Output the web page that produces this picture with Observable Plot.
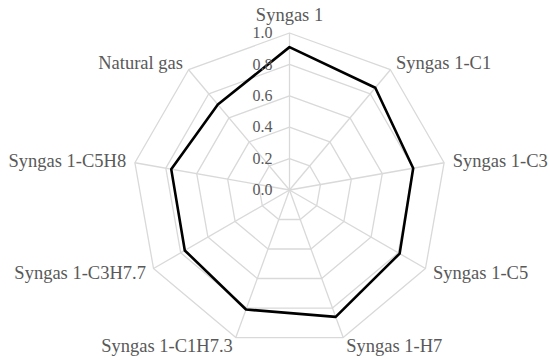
<!DOCTYPE html>
<html>
<head>
<meta charset="utf-8">
<script src="https://cdn.jsdelivr.net/npm/d3@7"></script>
<script src="https://cdn.jsdelivr.net/npm/@observablehq/plot@0.6"></script>
<style>
  html, body { margin: 0; padding: 0; background: #fff; }
  #chart svg { display: block; }
</style>
</head>
<body>
<div id="chart"></div>
<script>
// ---- data ----
const categories = [
  "Syngas 1", "Syngas 1-C1", "Syngas 1-C3", "Syngas 1-C5", "Syngas 1-H7",
  "Syngas 1-C1H7.3", "Syngas 1-C3H7.7", "Syngas 1-C5H8", "Natural gas"
];
const values = [0.91, 0.85, 0.80, 0.81, 0.86, 0.81, 0.77, 0.765, 0.71];
const ringLevels = [0.2, 0.4, 0.6, 0.8, 1.0];
const tickLabels = ["0.0", "0.2", "0.4", "0.6", "0.8", "1.0"];
const tickValues = [0, 0.2, 0.4, 0.6, 0.8, 1.0];

// ---- geometry (polar -> cartesian in data units) ----
const n = categories.length;
const angle = i => (2 * Math.PI * i) / n; // clockwise from top
const px = (i, r) => r * Math.sin(angle(i));
const py = (i, r) => r * Math.cos(angle(i));

const rings = ringLevels.flatMap(level =>
  categories.map((c, i) => ({level, x: px(i, level), y: py(i, level)}))
);
const spokes = categories.map((c, i) => ({x1: 0, y1: 0, x2: px(i, 1), y2: py(i, 1)}));
const series = categories.map((c, i) => ({cat: c, x: px(i, values[i]), y: py(i, values[i])}));
const labelOffset = 0.056;
const labels = categories.map((c, i) => {
  const s = Math.sin(angle(i));
  return {
    cat: c,
    x: px(i, 1 + labelOffset),
    y: py(i, 1 + labelOffset),
    side: Math.abs(s) < 1e-6 ? "top" : (s > 0 ? "right" : "left")
  };
});
const ticks = tickValues.map((v, i) => ({v, label: tickLabels[i]}));

const W = 550, H = 360;
const cx = 289, cy = 189.5, R = 157;
const font = "'Liberation Serif', 'Times New Roman', serif";
const textColor = "#595959";
const gridColor = "#d9d9d9";

const chart = Plot.plot({
  width: W,
  height: H,
  margin: 0,
  x: {domain: [-cx / R, (W - cx) / R], axis: null},
  y: {domain: [-(H - cy) / R, cy / R], axis: null},
  style: {fontFamily: font, background: "#fff"},
  marks: [
    Plot.line(rings, {x: "x", y: "y", z: "level", curve: "linear-closed", stroke: gridColor, strokeWidth: 1.3}),
    Plot.link(spokes, {x1: "x1", y1: "y1", x2: "x2", y2: "y2", stroke: gridColor, strokeWidth: 1.3}),
    Plot.line(series, {x: "x", y: "y", curve: "linear-closed", stroke: "#000", strokeWidth: 2.6}),
    Plot.text(ticks, {x: 0, y: "v", text: "label", textAnchor: "end", dx: -17, fill: textColor, fontSize: 16, fontFamily: font}),
    Plot.text(labels.filter(d => d.side === "top"), {x: "x", y: "y", text: "cat", textAnchor: "middle", lineAnchor: "bottom", dy: -3, fill: textColor, fontSize: 18.5, fontFamily: font}),
    Plot.text(labels.filter(d => d.side === "right"), {x: "x", y: "y", text: "cat", textAnchor: "start", fill: textColor, fontSize: 18.5, fontFamily: font}),
    Plot.text(labels.filter(d => d.side === "left"), {x: "x", y: "y", text: "cat", textAnchor: "end", fill: textColor, fontSize: 18.5, fontFamily: font})
  ]
});
document.getElementById("chart").appendChild(chart);
</script>
</body>
</html>
